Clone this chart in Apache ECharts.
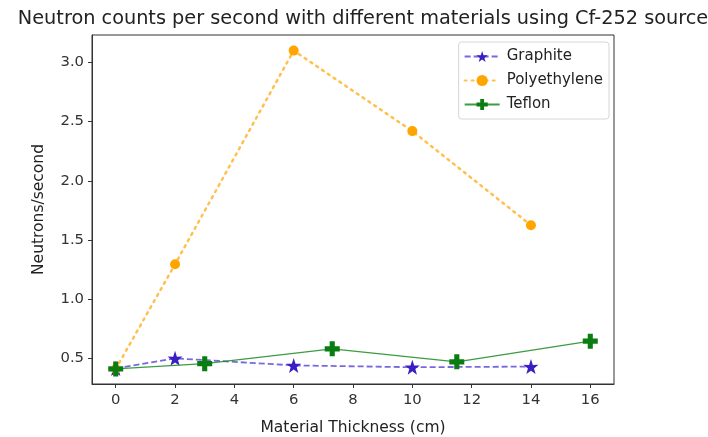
<!DOCTYPE html>
<html>
<head>
<meta charset="utf-8">
<script src="https://cdn.jsdelivr.net/npm/echarts@6/dist/echarts.min.js"></script>
<style>
  html, body { margin: 0; padding: 0; background: #fff; }
  #chart { width: 708px; height: 437px; }
</style>
</head>
<body>
<div id="chart"></div>
<script>
// data
const graphiteX = [0, 2, 6, 10, 14]
const graphiteY = [0.415, 0.50, 0.44, 0.425, 0.43]
const polyX = [0, 2, 6, 10, 14]
const polyY = [0.41, 1.295, 3.10, 2.42, 1.625]
const teflonX = [0, 3, 7.3, 11.5, 16]
const teflonY = [0.41, 0.455, 0.58, 0.47, 0.645]
const xTicks = [0, 2, 4, 6, 8, 10, 12, 14, 16]
const yTicks = [0.5, 1.0, 1.5, 2.0, 2.5, 3.0]

const zip = (xs, ys) => xs.map((x, i) => [x, ys[i]])

const STAR = 'path://M50,0 L61.8,35.1 L97.6,34.5 L69.1,56.7 L79.4,90.5 L50,70 L20.6,90.5 L30.9,56.7 L2.4,34.5 L38.2,35.1 Z'
const PLUS = 'path://M33,0 H67 V33 H100 V67 H67 V100 H33 V67 H0 V33 H33 Z'
const font = 'DejaVu Sans'

const chart = echarts.init(document.getElementById('chart'))
chart.setOption({
  animation: false,
  textStyle: { fontFamily: font },
  title: {
    text: 'Neutron counts per second with different materials using Cf-252 source',
    left: 358,
    textAlign: 'center',
    top: 4,
    textStyle: { fontSize: 19.3, fontWeight: 'normal', color: '#222', fontFamily: font }
  },
  grid: {
    left: 92, right: 94, top: 35, bottom: 53,
    outerBoundsMode: 'none',
    show: true, borderColor: '#333', borderWidth: 1, backgroundColor: '#fff'
  },
  legend: {
    orient: 'vertical',
    right: 99,
    top: 42,
    itemWidth: 35,
    itemHeight: 14,
    itemGap: 9,
    padding: [7, 6, 7, 5],
    backgroundColor: '#fff',
    borderColor: '#d6d6d6',
    borderWidth: 1,
    borderRadius: 3,
    textStyle: { fontSize: 15, color: '#222', fontFamily: font, padding: [0, 0, 0, 2] },
    data: ['Graphite', 'Polyethylene', 'Teflon']
  },
  xAxis: {
    type: 'value',
    min: -0.8,
    max: 16.8,
    name: 'Material Thickness (cm)',
    nameLocation: 'middle',
    nameGap: 36,
    nameTextStyle: { fontSize: 15.5, color: '#222' },
    splitLine: { show: false },
    axisLine: { show: true, onZero: false, lineStyle: { color: '#333' } },
    axisTick: { show: true, length: 4, lineStyle: { color: '#333' }, customValues: xTicks },
    axisLabel: { fontSize: 14.8, color: '#333', margin: 9, customValues: xTicks }
  },
  yAxis: {
    type: 'value',
    min: 0.283,
    max: 3.232,
    name: 'Neutrons/second',
    nameLocation: 'middle',
    nameGap: 45,
    nameTextStyle: { fontSize: 15.5, color: '#222' },
    splitLine: { show: false },
    axisLine: { show: true, onZero: false, lineStyle: { color: '#333' } },
    axisTick: { show: true, length: 4, lineStyle: { color: '#333' }, customValues: yTicks },
    axisLabel: {
      fontSize: 14.8, color: '#333', margin: 8, customValues: yTicks,
      formatter: v => v.toFixed(1)
    }
  },
  series: [
    {
      name: 'Graphite',
      type: 'line',
      data: zip(graphiteX, graphiteY),
      symbol: STAR,
      symbolSize: 15,
      itemStyle: { color: '#3a1ec4' },
      lineStyle: { color: '#4a36d6', opacity: 0.75, width: 1.8, type: [6, 3] },
      z: 2
    },
    {
      name: 'Polyethylene',
      type: 'line',
      data: zip(polyX, polyY),
      symbol: 'circle',
      symbolSize: 10,
      itemStyle: { color: '#ffa500' },
      lineStyle: { color: '#ffa500', opacity: 0.7, width: 2.5, type: [2, 5], cap: 'round' },
      z: 3
    },
    {
      name: 'Teflon',
      type: 'line',
      data: zip(teflonX, teflonY),
      symbol: PLUS,
      symbolSize: 15,
      itemStyle: { color: '#0a7d12' },
      lineStyle: { color: '#1a8a22', opacity: 0.85, width: 1.3 },
      z: 4
    }
  ]
})
</script>
</body>
</html>
